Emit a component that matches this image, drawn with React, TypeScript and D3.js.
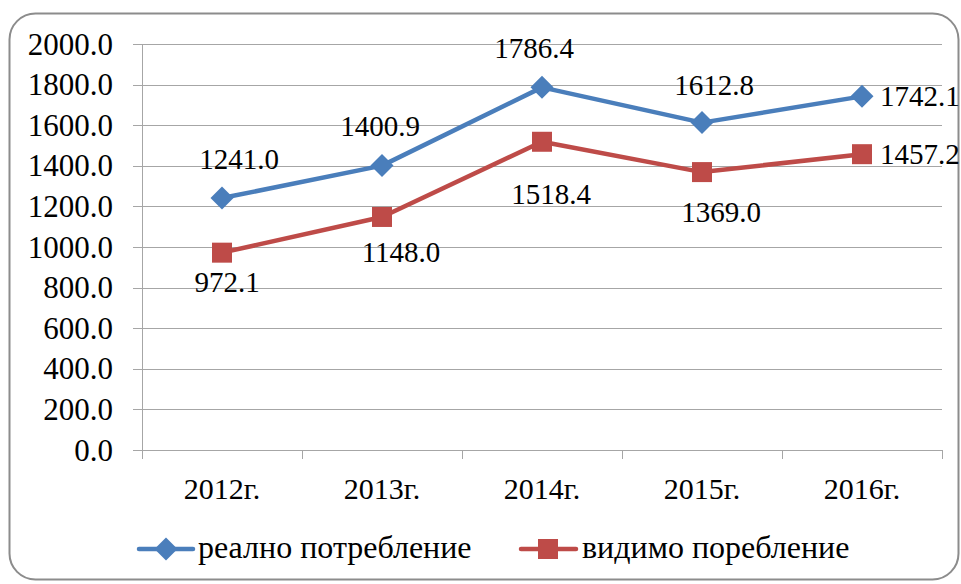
import React from "react";
import * as d3 from "d3";

const categories = ["2012г.", "2013г.", "2014г.", "2015г.", "2016г."];
const realValues = [1241.0, 1400.9, 1786.4, 1612.8, 1742.1];
const visibleValues = [972.1, 1148.0, 1518.4, 1369.0, 1457.2];
const yTicks = [0, 200, 400, 600, 800, 1000, 1200, 1400, 1600, 1800, 2000];
const seriesNames = ["реално потребление", "видимо поребление"];

// label nudges (layout, px) relative to each point
const realLabelOffsets: [number, number, string][] = [
  [17, -29, "middle"],
  [-2, -30, "middle"],
  [-8, -29, "middle"],
  [12, -28, "middle"],
  [18, 10, "start"],
];
const visibleLabelOffsets: [number, number, string][] = [
  [5, 39, "middle"],
  [19, 45, "middle"],
  [9, 62, "middle"],
  [19, 50, "middle"],
  [18, 10, "start"],
];

const W = 961;
const H = 584;
const margin = { left: 142, right: 19, top: 44, bottom: 134 };
const BLUE = "#4a7ebb";
const RED = "#be4b48";
const FONT = "Liberation Serif";

export default function App() {
  const x = d3
    .scaleBand<string>()
    .domain(categories)
    .range([margin.left, W - margin.right])
    .paddingInner(0)
    .paddingOuter(0);
  const y = d3
    .scaleLinear()
    .domain([0, 2000])
    .range([H - margin.bottom, margin.top]);
  const cx = (c: string) => (x(c) as number) + x.bandwidth() / 2;

  const line = d3
    .line<number>()
    .x((_, i) => cx(categories[i]))
    .y((d) => y(d));

  const y0 = y(0);
  const xEdges = [...categories.map((c) => x(c) as number), W - margin.right];

  const diamond = (px: number, py: number, r: number) =>
    `M${px},${py - r}L${px + r},${py}L${px},${py + r}L${px - r},${py}Z`;

  const ts = { fontFamily: FONT };

  return (
    <svg
      width={W}
      height={H}
      style={{ position: "absolute", left: 0, top: 0, background: "#fff" }}
    >
      <rect
        x={9.5}
        y={13.5}
        width={949}
        height={566}
        rx={26}
        ry={26}
        fill="#fff"
        stroke="#8c8c8c"
        strokeWidth={2}
      />
      {yTicks.map((t) => (
        <line
          key={"g" + t}
          x1={margin.left - 9}
          x2={W - margin.right}
          y1={Math.round(y(t)) + 0.5}
          y2={Math.round(y(t)) + 0.5}
          stroke="#a6a6a6"
          strokeWidth={1}
        />
      ))}
      <line
        x1={margin.left + 0.5}
        x2={margin.left + 0.5}
        y1={y(2000)}
        y2={y0 + 9}
        stroke="#a6a6a6"
      />
      {xEdges.map((xe, i) => (
        <line
          key={"xt" + i}
          x1={Math.round(xe) + 0.5}
          x2={Math.round(xe) + 0.5}
          y1={y0}
          y2={y0 + 9}
          stroke="#a6a6a6"
        />
      ))}
      {yTicks.map((t) => (
        <text
          key={"yl" + t}
          x={113}
          y={y(t) + 10.5}
          textAnchor="end"
          fontSize={31}
          fill="#000"
          style={ts}
        >
          {t.toFixed(1)}
        </text>
      ))}
      {categories.map((c) => (
        <text
          key={"xl" + c}
          x={cx(c)}
          y={499}
          textAnchor="middle"
          fontSize={30}
          fill="#000"
          style={ts}
        >
          {c}
        </text>
      ))}
      <path d={line(realValues) || ""} fill="none" stroke={BLUE} strokeWidth={4.5} strokeLinejoin="round" />
      <path d={line(visibleValues) || ""} fill="none" stroke={RED} strokeWidth={4.5} strokeLinejoin="round" />
      {realValues.map((v, i) => (
        <path key={"d" + i} d={diamond(cx(categories[i]), y(v), 11.5)} fill={BLUE} />
      ))}
      {visibleValues.map((v, i) => (
        <rect
          key={"s" + i}
          x={cx(categories[i]) - 10}
          y={y(v) - 10}
          width={20}
          height={20}
          fill={RED}
        />
      ))}
      {realValues.map((v, i) => (
        <text
          key={"rl" + i}
          x={cx(categories[i]) + realLabelOffsets[i][0]}
          y={y(v) + realLabelOffsets[i][1]}
          textAnchor={realLabelOffsets[i][2] as any}
          fontSize={29}
          fill="#000"
          style={ts}
        >
          {v.toFixed(1)}
        </text>
      ))}
      {visibleValues.map((v, i) => (
        <text
          key={"vl" + i}
          x={cx(categories[i]) + visibleLabelOffsets[i][0]}
          y={y(v) + visibleLabelOffsets[i][1]}
          textAnchor={visibleLabelOffsets[i][2] as any}
          fontSize={29}
          fill="#000"
          style={ts}
        >
          {v.toFixed(1)}
        </text>
      ))}
      <g>
        <line x1={139} x2={193} y1={549} y2={549} stroke={BLUE} strokeWidth={4.5} strokeLinecap="round" />
        <path d={diamond(166, 549, 11.5)} fill={BLUE} />
        <text x={198} y={558} fontSize={32} fill="#000" style={ts}>
          {seriesNames[0]}
        </text>
        <line x1={521} x2={576} y1={549} y2={549} stroke={RED} strokeWidth={4.5} strokeLinecap="round" />
        <rect x={538} y={539} width={20} height={20} fill={RED} />
        <text x={582} y={558} fontSize={32} fill="#000" style={ts}>
          {seriesNames[1]}
        </text>
      </g>
    </svg>
  );
}
